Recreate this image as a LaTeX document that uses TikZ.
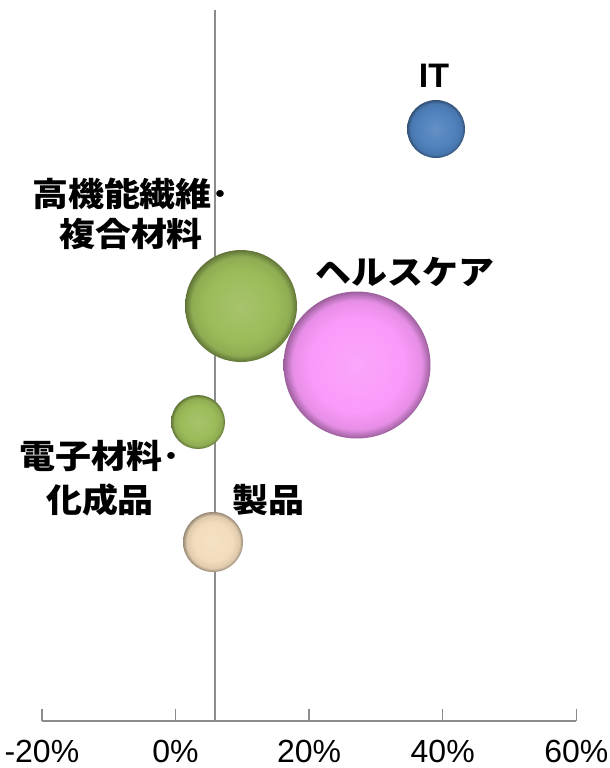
\documentclass[tikz,border=0pt]{standalone}
\usepackage{fontspec}
\setmainfont{Liberation Sans}
\newfontfamily\jp[FakeStretch=1.09]{Noto Sans CJK JP}
\colorlet{bubcol}{gray}
\pgfdeclareradialshading[bubcol]{bubble}{\pgfpoint{0bp}{0bp}}{color(0bp)=(bubcol!88!white); color(16bp)=(bubcol); color(22bp)=(bubcol!92!black); color(25bp)=(bubcol!62!black); color(50bp)=(bubcol!62!black)}
\definecolor{itblue}{HTML}{4F81BD}
\definecolor{matgreen}{HTML}{9BBB59}
\definecolor{carepink}{HTML}{FA9AFA}
\definecolor{prodbeige}{HTML}{F3DCBC}
\definecolor{axisgray}{HTML}{8C8C8C}
\tikzset{
  bubble/.style={circle, inner sep=0pt, minimum size=#1pt, shade, shading=bubble},
  bubcolor/.code={\colorlet{bubcol}{#1}},
  lab/.style={font=\jp\bfseries\fontsize{33}{40}\selectfont, align=center},
  ticklab/.style={font=\fontsize{32}{36}\selectfont}
}
\begin{document}
\begin{tikzpicture}[x=1pt,y=-1pt]
  \useasboundingbox (0,0) rectangle (610,768);
  % axes
  \draw[axisgray, line width=2pt] (215,10) -- (215,721);
  \draw[axisgray, line width=1.5pt] (42,721) -- (576,721);
  \foreach \v in {-20,0,20,40,60} {
    \draw[axisgray, line width=1.5pt] (175.5+6.68*\v,709) -- (175.5+6.68*\v,721);
    \node[ticklab] (t\v) at (175.5+6.68*\v,751) {\v\%};
  }
  % bubbles
  \node[bubble=58, bubcolor=itblue] (it) at (436,129) {};
  \node[bubble=112, bubcolor=matgreen] (fiber) at (241,306) {};
  \node[bubble=147, bubcolor=carepink] (care) at (357,365) {};
  \node[bubble=54, bubcolor=matgreen] (elec) at (198,422) {};
  \node[bubble=60, bubcolor=prodbeige] (prod) at (213,542) {};
  % labels
  \node[font=\bfseries\fontsize{34}{40}\selectfont] (itlab) at (434,76) {IT};
  \node[lab] (fiberlab) at (131,214) {高機能繊維･\\複合材料};
  \node[lab] (carelab) at (405,272) {ヘルスケア};
  \node[lab] (eleclab) at (100,478) {電子材料･\\[4pt]化成品};
  \node[lab] (prodlab) at (268,500) {製品};
\end{tikzpicture}
\end{document}
